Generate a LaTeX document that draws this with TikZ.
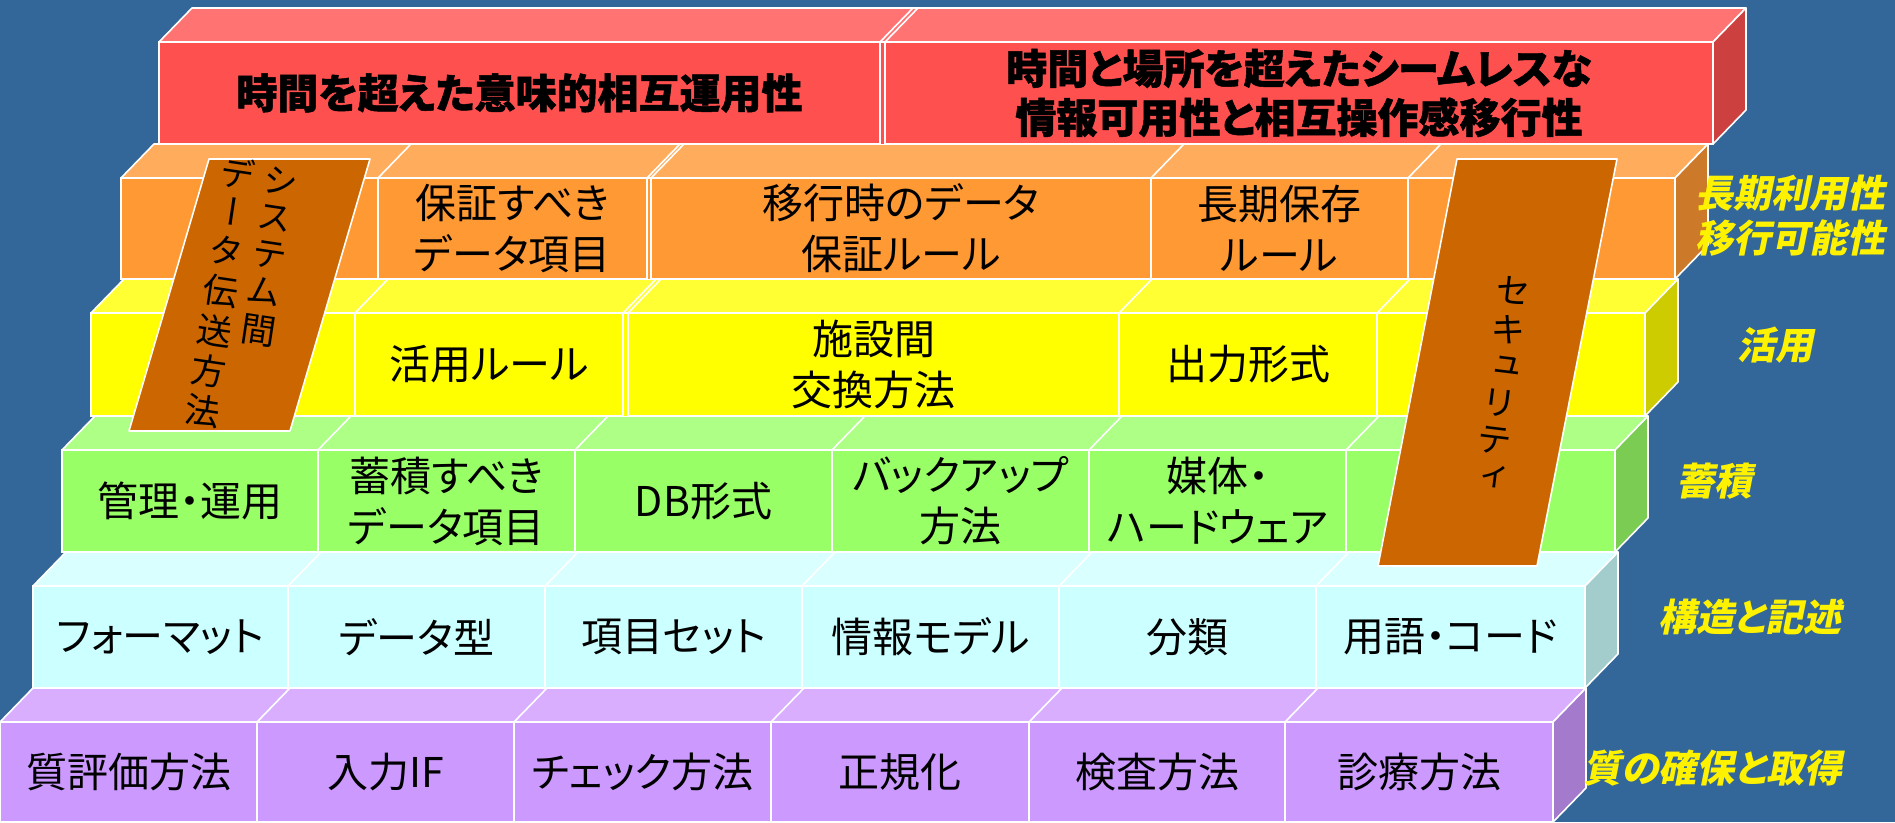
\documentclass[tikz,border=0pt]{standalone}
\usepackage{fontspec}
\setmainfont{Noto Sans CJK JP}[RawFeature={+palt}]
\newfontfamily\redfont{Noto Sans CJK JP}[RawFeature={+palt},BoldFeatures={FakeBold=1.2}]
\newfontfamily\labfont{Noto Sans CJK JP}[FakeSlant=0.2,RawFeature={+palt}]
\newfontfamily\vfont{Noto Sans CJK JP}[RawFeature={+vert}]
\definecolor{bg}{HTML}{336699}
\definecolor{pF}{HTML}{CC99FF}\definecolor{pT}{HTML}{D9AEFF}\definecolor{pS}{HTML}{A37ACC}
\definecolor{cF}{HTML}{CCFFFF}\definecolor{cT}{HTML}{D9FFFF}\definecolor{cS}{HTML}{A3CCCC}
\definecolor{gF}{HTML}{99FF66}\definecolor{gT}{HTML}{ADFF85}\definecolor{gS}{HTML}{7ACC52}
\definecolor{yF}{HTML}{FFFF00}\definecolor{yT}{HTML}{FFFF33}\definecolor{yS}{HTML}{CCCC00}
\definecolor{oF}{HTML}{FF9933}\definecolor{oT}{HTML}{FFAD5C}\definecolor{oS}{HTML}{CC7A29}
\definecolor{rF}{HTML}{FF5050}\definecolor{rT}{HTML}{FF7373}\definecolor{rS}{HTML}{CC4040}
\definecolor{brn}{HTML}{CC6600}
\newcommand\layerfaces[7]{%
  \fill[#5] (#1,#3) rectangle (#2,#4);
  \filldraw[fill=#6, wline] (#1,#3) -- (#2,#3) -- (#2+33,#3-34) -- (#1+33,#3-34) -- cycle;
  \filldraw[fill=#7, wline] (#2,#3) -- (#2+33,#3-34) -- (#2+33,#4-34) -- (#2,#4) -- cycle;
}
\tikzset{
  wline/.style={draw=white, line width=1.6pt, line join=round},
  cell/.style={draw=white, line width=1.6pt, rectangle, inner sep=0pt, outer sep=0pt,
    anchor=north west, align=center, text=black, font=\fontsize{41}{51}\selectfont},
  redcell/.style={cell, fill=rF, minimum height=102pt, font=\redfont\bfseries\fontsize{41}{49}\selectfont},
  vtext/.style={inner sep=0pt, text=black, font=\vfont\fontsize{35}{37}\selectfont},
  lab/.style={inner sep=0pt, align=center, text=yellow, font=\labfont\bfseries\fontsize{38}{45}\selectfont},
  brownbox/.style={fill=brn, draw=white, line width=1.6pt, line join=round}
}
\begin{document}
\begin{tikzpicture}[x=1pt,y=-1pt]
\useasboundingbox (0,0) rectangle (1895,822);
\fill[bg] (0,0) rectangle (1895,822);

% purple layer
\layerfaces{0}{1553}{722}{822}{pF}{pT}{pS}
\node[cell, fill=pF, minimum width=257pt, minimum height=100pt] (p1) at (0,722) {質評価方法};
\node[cell, fill=pF, minimum width=257pt, minimum height=100pt] (p2) at (257,722) {入力IF};
\node[cell, fill=pF, minimum width=257pt, minimum height=100pt] (p3) at (514,722) {チェック方法};
\node[cell, fill=pF, minimum width=258pt, minimum height=100pt] (p4) at (771,722) {正規化};
\node[cell, fill=pF, minimum width=256pt, minimum height=100pt] (p5) at (1029,722) {検査方法};
\node[cell, fill=pF, minimum width=268pt, minimum height=100pt] (p6) at (1285,722) {診療方法};
\foreach \c in {p2,p3,p4,p5,p6} {\draw[wline] (\c.north west) -- ++(33,-34);}

% cyan layer
\layerfaces{33}{1585}{586}{688}{cF}{cT}{cS}
\node[cell, fill=cF, minimum width=255pt, minimum height=102pt] (c1) at (33,586) {フォーマット};
\node[cell, fill=cF, minimum width=257pt, minimum height=102pt] (c2) at (288,586) {データ型};
\node[cell, fill=cF, minimum width=257pt, minimum height=102pt] (c3) at (545,586) {項目セット};
\node[cell, fill=cF, minimum width=257pt, minimum height=102pt] (c4) at (802,586) {情報モデル};
\node[cell, fill=cF, minimum width=257pt, minimum height=102pt] (c5) at (1059,586) {分類};
\node[cell, fill=cF, minimum width=269pt, minimum height=102pt] (c6) at (1316,586) {用語・コード};
\foreach \c in {c2,c3,c4,c5,c6} {\draw[wline] (\c.north west) -- ++(33,-34);}

% green layer
\layerfaces{62}{1615}{450}{552}{gF}{gT}{gS}
\node[cell, fill=gF, minimum width=256pt, minimum height=102pt] (g1) at (62,450) {管理・運用};
\node[cell, fill=gF, minimum width=257pt, minimum height=102pt] (g2) at (318,450) {蓄積すべき\\データ項目};
\node[cell, fill=gF, minimum width=257pt, minimum height=102pt] (g3) at (575,450) {DB形式};
\node[cell, fill=gF, minimum width=257pt, minimum height=102pt] (g4) at (832,450) {バックアップ\\方法};
\node[cell, fill=gF, minimum width=257pt, minimum height=102pt] (g5) at (1089,450) {媒体・\\ハードウェア};
\node[cell, fill=gF, minimum width=269pt, minimum height=102pt] (g6) at (1346,450) {};
\foreach \c in {g2,g3,g4,g5,g6} {\draw[wline] (\c.north west) -- ++(33,-34);}

% yellow layer
\layerfaces{91}{1645}{313}{416}{yF}{yT}{yS}
\node[cell, fill=yF, minimum width=264pt, minimum height=103pt] (y1) at (91,313) {};
\node[cell, fill=yF, minimum width=268pt, minimum height=103pt] (y2) at (355,313) {活用ルール};
\node[cell, fill=yF, minimum width=491pt, minimum height=103pt] (y3) at (628,313) {施設間\\交換方法};
\node[cell, fill=yF, minimum width=258pt, minimum height=103pt] (y4) at (1119,313) {出力形式};
\node[cell, fill=yF, minimum width=268pt, minimum height=103pt] (y5) at (1377,313) {};
\foreach \c in {y2,y3,y4,y5} {\draw[wline] (\c.north west) -- ++(33,-34);}
\draw[wline] (y2.north east) -- ++(33,-34);

% orange layer
\layerfaces{121}{1675}{178}{279}{oF}{oT}{oS}
\node[cell, fill=oF, minimum width=257pt, minimum height=101pt] (o1) at (121,178) {};
\node[cell, fill=oF, minimum width=269pt, minimum height=101pt] (o2) at (378,178) {保証すべき\\データ項目};
\node[cell, fill=oF, minimum width=500pt, minimum height=101pt] (o3) at (651,178) {移行時のデータ\\保証ルール};
\node[cell, fill=oF, minimum width=257pt, minimum height=101pt] (o4) at (1151,178) {長期保存\\ルール};
\node[cell, fill=oF, minimum width=267pt, minimum height=101pt] (o5) at (1408,178) {};
\foreach \c in {o2,o3,o4,o5} {\draw[wline] (\c.north west) -- ++(33,-34);}
\draw[wline] (o2.north east) -- ++(33,-34);

% red layer
\layerfaces{159}{1713}{42}{144}{rF}{rT}{rS}
\node[redcell, minimum width=721pt] (r1) at (159,42) {時間を超えた意味的相互運用性};
\node[redcell, minimum width=828pt] (r2) at (885,42) {時間と場所を超えたシームレスな\\情報可用性と相互操作感移行性};
\draw[wline] (r1.north east) -- ++(33,-34);
\draw[wline] (r2.north west) -- ++(33,-34);

% brown slanted boxes
\coordinate (a1) at (209,159);
\coordinate (a2) at (370,159);
\coordinate (a3) at (290,431);
\coordinate (a4) at (129,431);
\path[brownbox] (a1) -- (a2) -- (a3) -- (a4) -- cycle;
\node[vtext, rotate=-8.5] (sys) at (241,300)
  {\begin{tabular}[t]{@{}c@{}}デ\\ー\\タ\\伝\\送\\方\\法\end{tabular}\hspace{8pt}%
   \begin{tabular}[t]{@{}c@{}}シ\\ス\\テ\\ム\\間\end{tabular}};

\coordinate (b1) at (1457,159);
\coordinate (b2) at (1617,159);
\coordinate (b3) at (1537,566);
\coordinate (b4) at (1378,566);
\path[brownbox] (b1) -- (b2) -- (b3) -- (b4) -- cycle;
\node[vtext, rotate=-7] (sec) at (1501,389)
  {\begin{tabular}{@{}c@{}}セ\\キ\\ュ\\リ\\テ\\ィ\end{tabular}};

% labels
\node[lab] (l1) at (1790,216) {長期利用性\\移行可能性};
\node[lab] (l2) at (1775,345) {活用};
\node[lab] (l3) at (1714,481) {蓄積};
\node[lab] (l4) at (1750,617) {構造と記述};
\node[lab] (l5) at (1713,768) {質の確保と取得};
\end{tikzpicture}
\end{document}
